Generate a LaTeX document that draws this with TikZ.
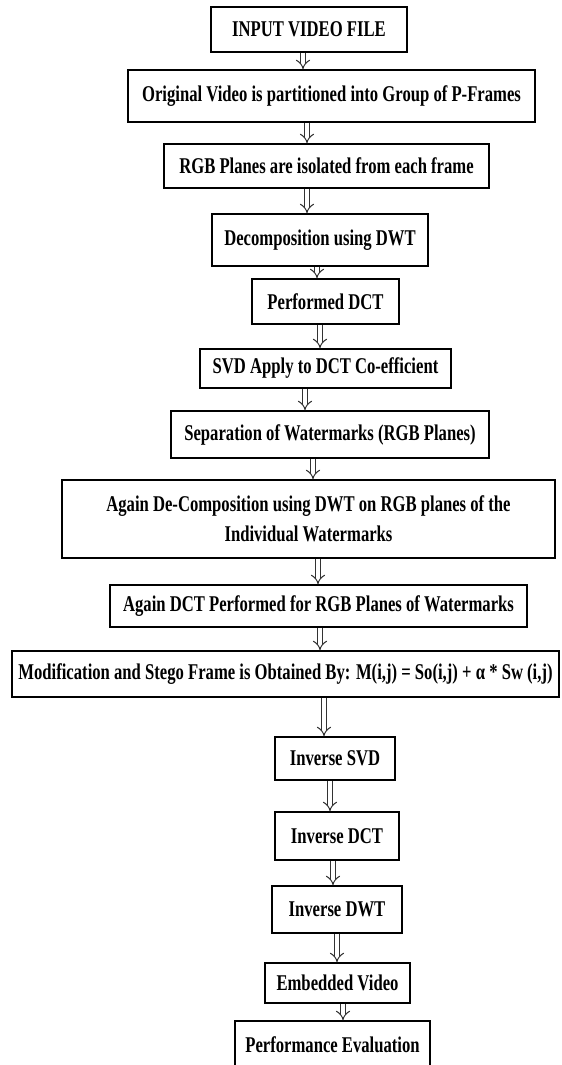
\documentclass[tikz,border=0pt]{standalone}
\usepackage{fontspec}
\setmainfont{Liberation Serif}[FakeStretch=0.74]
\usetikzlibrary{arrows.meta}

\begin{document}
\begin{tikzpicture}[x=1bp, y=-1bp]
	\tikzstyle{box} = [draw, line width=1.5bp, inner sep=0pt, align=center, font=\bfseries\fontsize{22.5bp}{30bp}\selectfont]
	\tikzstyle{arrow} = [draw=black!80, double, double distance=4bp, line width=1bp, -{Implies}]
	
	\useasboundingbox (0,0) rectangle (562,1065);
	
	\node [box, minimum width=196bp, minimum height=45bp] (b1) at (309,29.5) {INPUT VIDEO FILE};
	\node [box, minimum width=407bp, minimum height=52bp] (b2) at (331.5,96) {Original Video is partitioned into Group of P-Frames};
	\node [box, minimum width=325bp, minimum height=44bp] (b3) at (326.5,166) {RGB Planes are isolated from each frame};
	\node [box, minimum width=216bp, minimum height=52bp] (b4) at (320,240) {Decomposition using DWT};
	\node [box, minimum width=147bp, minimum height=45bp] (b5) at (325.5,301.5) {Performed DCT};
	\node [box, minimum width=251bp, minimum height=39bp] (b6) at (325.5,368.5) {SVD Apply to DCT Co-efficient};
	\node [box, minimum width=318bp, minimum height=47bp] (b7) at (330,434.5) {Separation of Watermarks (RGB Planes)};
	\node [box, minimum width=493bp, minimum height=78bp] (b8) at (308.5,519) {Again De-Composition using DWT on RGB planes of the\\Individual Watermarks};
	\node [box, minimum width=417bp, minimum height=42bp] (b9) at (318.5,606) {Again DCT Performed for RGB Planes of Watermarks};
	\node [box, minimum width=547bp, minimum height=46bp] (b10) at (285.5,674) {Modification and Stego Frame is Obtained By: M(i,j) = So(i,j) + α * Sw (i,j)};
	\node [box, minimum width=120bp, minimum height=43bp] (b11) at (335,758.5) {Inverse SVD};
	\node [box, minimum width=124bp, minimum height=48bp] (b12) at (337,836) {Inverse DCT};
	\node [box, minimum width=130bp, minimum height=47bp] (b13) at (337,909.5) {Inverse DWT};
	\node [box, minimum width=145bp, minimum height=40bp] (b14) at (337.5,983) {Embedded Video};
	\node [box, minimum width=195bp, minimum height=47bp] (b15) at (332.5,1044.5) {Performance Evaluation};
	
	\foreach \a/\b/\x in {b1/b2/303, b2/b3/307, b3/b4/307, b4/b5/317, b5/b6/320, b6/b7/305, b7/b8/313,
		b8/b9/318, b9/b10/320, b10/b11/324, b11/b12/330, b12/b13/333, b13/b14/337, b14/b15/343}
		\draw [arrow] (\a.south -| \x,0) -- (\b.north -| \x,0);
\end{tikzpicture}
\end{document}
